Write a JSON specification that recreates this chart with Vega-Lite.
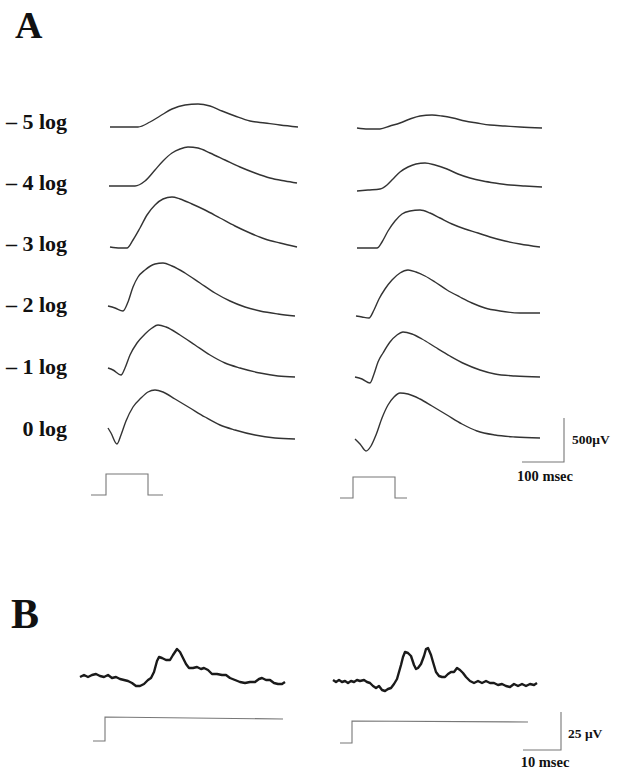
{
  "$schema": "https://vega.github.io/schema/vega-lite/v6.json",
  "width": 625,
  "height": 773,
  "autosize": {"type": "fit", "contains": "padding"},
  "padding": 0,
  "background": "white",
  "config": {"view": {"stroke": null}},
  "datasets": {
    "traces": [
      {"t":"L5","x":110,"y":127},{"t":"L5","x":125,"y":127},{"t":"L5","x":138,"y":127},{"t":"L5","x":150,"y":122},{"t":"L5","x":160,"y":116},{"t":"L5","x":172,"y":109},{"t":"L5","x":185,"y":105},{"t":"L5","x":198,"y":104},{"t":"L5","x":210,"y":106},{"t":"L5","x":222,"y":111},{"t":"L5","x":235,"y":116},{"t":"L5","x":250,"y":121},{"t":"L5","x":265,"y":123},{"t":"L5","x":280,"y":125},{"t":"L5","x":298,"y":127},
      {"t":"L4","x":109,"y":186},{"t":"L4","x":122,"y":186},{"t":"L4","x":135,"y":186},{"t":"L4","x":145,"y":181},{"t":"L4","x":155,"y":170},{"t":"L4","x":163,"y":161},{"t":"L4","x":172,"y":153},{"t":"L4","x":180,"y":149},{"t":"L4","x":188,"y":147},{"t":"L4","x":198,"y":148},{"t":"L4","x":210,"y":153},{"t":"L4","x":225,"y":160},{"t":"L4","x":240,"y":167},{"t":"L4","x":255,"y":173},{"t":"L4","x":270,"y":178},{"t":"L4","x":285,"y":181},{"t":"L4","x":297,"y":183},
      {"t":"L3","x":110,"y":247},{"t":"L3","x":120,"y":248},{"t":"L3","x":127,"y":248},{"t":"L3","x":133,"y":240},{"t":"L3","x":140,"y":228},{"t":"L3","x":147,"y":215},{"t":"L3","x":155,"y":205},{"t":"L3","x":163,"y":199},{"t":"L3","x":172,"y":197},{"t":"L3","x":180,"y":199},{"t":"L3","x":192,"y":204},{"t":"L3","x":205,"y":210},{"t":"L3","x":220,"y":218},{"t":"L3","x":235,"y":226},{"t":"L3","x":250,"y":233},{"t":"L3","x":265,"y":239},{"t":"L3","x":280,"y":243},{"t":"L3","x":297,"y":247},
      {"t":"L2","x":108,"y":306},{"t":"L2","x":115,"y":308},{"t":"L2","x":123,"y":311},{"t":"L2","x":128,"y":302},{"t":"L2","x":133,"y":287},{"t":"L2","x":138,"y":277},{"t":"L2","x":145,"y":270},{"t":"L2","x":155,"y":264},{"t":"L2","x":163,"y":263},{"t":"L2","x":172,"y":266},{"t":"L2","x":185,"y":273},{"t":"L2","x":200,"y":283},{"t":"L2","x":215,"y":293},{"t":"L2","x":230,"y":301},{"t":"L2","x":245,"y":307},{"t":"L2","x":260,"y":311},{"t":"L2","x":278,"y":314},{"t":"L2","x":295,"y":316},
      {"t":"L1","x":108,"y":368},{"t":"L1","x":113,"y":370},{"t":"L1","x":121,"y":375},{"t":"L1","x":125,"y":368},{"t":"L1","x":130,"y":355},{"t":"L1","x":137,"y":343},{"t":"L1","x":145,"y":334},{"t":"L1","x":152,"y":328},{"t":"L1","x":158,"y":325},{"t":"L1","x":166,"y":327},{"t":"L1","x":180,"y":335},{"t":"L1","x":195,"y":345},{"t":"L1","x":210,"y":355},{"t":"L1","x":225,"y":363},{"t":"L1","x":240,"y":368},{"t":"L1","x":260,"y":373},{"t":"L1","x":278,"y":376},{"t":"L1","x":295,"y":377},
      {"t":"L0","x":108,"y":428},{"t":"L0","x":111,"y":433},{"t":"L0","x":117,"y":444},{"t":"L0","x":121,"y":435},{"t":"L0","x":126,"y":421},{"t":"L0","x":133,"y":407},{"t":"L0","x":141,"y":398},{"t":"L0","x":148,"y":392},{"t":"L0","x":155,"y":390},{"t":"L0","x":163,"y":392},{"t":"L0","x":175,"y":399},{"t":"L0","x":190,"y":408},{"t":"L0","x":205,"y":417},{"t":"L0","x":220,"y":425},{"t":"L0","x":235,"y":430},{"t":"L0","x":255,"y":435},{"t":"L0","x":275,"y":438},{"t":"L0","x":295,"y":439},
      {"t":"R5","x":357,"y":128},{"t":"R5","x":368,"y":129},{"t":"R5","x":380,"y":129},{"t":"R5","x":390,"y":126},{"t":"R5","x":400,"y":123},{"t":"R5","x":410,"y":119},{"t":"R5","x":420,"y":116},{"t":"R5","x":432,"y":115},{"t":"R5","x":442,"y":116},{"t":"R5","x":453,"y":118},{"t":"R5","x":465,"y":121},{"t":"R5","x":477,"y":123},{"t":"R5","x":490,"y":125},{"t":"R5","x":505,"y":126},{"t":"R5","x":520,"y":127},{"t":"R5","x":542,"y":128},
      {"t":"R4","x":357,"y":191},{"t":"R4","x":368,"y":190},{"t":"R4","x":380,"y":189},{"t":"R4","x":387,"y":185},{"t":"R4","x":393,"y":179},{"t":"R4","x":400,"y":172},{"t":"R4","x":408,"y":167},{"t":"R4","x":416,"y":164},{"t":"R4","x":425,"y":163},{"t":"R4","x":435,"y":165},{"t":"R4","x":447,"y":169},{"t":"R4","x":458,"y":174},{"t":"R4","x":470,"y":178},{"t":"R4","x":483,"y":181},{"t":"R4","x":495,"y":183},{"t":"R4","x":510,"y":185},{"t":"R4","x":525,"y":186},{"t":"R4","x":542,"y":187},
      {"t":"R3","x":357,"y":248},{"t":"R3","x":367,"y":248},{"t":"R3","x":377,"y":248},{"t":"R3","x":382,"y":242},{"t":"R3","x":388,"y":231},{"t":"R3","x":395,"y":221},{"t":"R3","x":402,"y":214},{"t":"R3","x":410,"y":211},{"t":"R3","x":420,"y":210},{"t":"R3","x":430,"y":213},{"t":"R3","x":440,"y":218},{"t":"R3","x":452,"y":224},{"t":"R3","x":465,"y":229},{"t":"R3","x":478,"y":233},{"t":"R3","x":490,"y":237},{"t":"R3","x":505,"y":241},{"t":"R3","x":520,"y":244},{"t":"R3","x":540,"y":247},
      {"t":"R2","x":356,"y":316},{"t":"R2","x":362,"y":317},{"t":"R2","x":369,"y":318},{"t":"R2","x":374,"y":310},{"t":"R2","x":379,"y":299},{"t":"R2","x":385,"y":289},{"t":"R2","x":392,"y":280},{"t":"R2","x":400,"y":273},{"t":"R2","x":408,"y":270},{"t":"R2","x":416,"y":272},{"t":"R2","x":425,"y":276},{"t":"R2","x":435,"y":282},{"t":"R2","x":447,"y":290},{"t":"R2","x":460,"y":297},{"t":"R2","x":472,"y":303},{"t":"R2","x":485,"y":308},{"t":"R2","x":500,"y":311},{"t":"R2","x":520,"y":313},{"t":"R2","x":540,"y":313},
      {"t":"R1","x":355,"y":377},{"t":"R1","x":362,"y":379},{"t":"R1","x":370,"y":383},{"t":"R1","x":374,"y":374},{"t":"R1","x":378,"y":362},{"t":"R1","x":383,"y":353},{"t":"R1","x":390,"y":342},{"t":"R1","x":397,"y":335},{"t":"R1","x":403,"y":332},{"t":"R1","x":412,"y":334},{"t":"R1","x":422,"y":339},{"t":"R1","x":435,"y":347},{"t":"R1","x":450,"y":356},{"t":"R1","x":465,"y":364},{"t":"R1","x":480,"y":370},{"t":"R1","x":495,"y":374},{"t":"R1","x":515,"y":376},{"t":"R1","x":540,"y":377},
      {"t":"R0","x":355,"y":439},{"t":"R0","x":360,"y":444},{"t":"R0","x":366,"y":451},{"t":"R0","x":371,"y":446},{"t":"R0","x":376,"y":435},{"t":"R0","x":382,"y":418},{"t":"R0","x":388,"y":405},{"t":"R0","x":394,"y":397},{"t":"R0","x":400,"y":393},{"t":"R0","x":408,"y":394},{"t":"R0","x":420,"y":399},{"t":"R0","x":432,"y":406},{"t":"R0","x":447,"y":415},{"t":"R0","x":462,"y":424},{"t":"R0","x":477,"y":431},{"t":"R0","x":495,"y":435},{"t":"R0","x":515,"y":437},{"t":"R0","x":540,"y":438}
    ],
    "thick": [
      {"t":"BL","x":80,"y":677},{"t":"BL","x":84,"y":675},{"t":"BL","x":88,"y":677},{"t":"BL","x":92,"y":675},{"t":"BL","x":96,"y":674},{"t":"BL","x":100,"y":676},{"t":"BL","x":104,"y":677},{"t":"BL","x":108,"y":675},{"t":"BL","x":112,"y":678},{"t":"BL","x":116,"y":677},{"t":"BL","x":120,"y":679},{"t":"BL","x":124,"y":680},{"t":"BL","x":128,"y":681},{"t":"BL","x":132,"y":683},{"t":"BL","x":136,"y":686},{"t":"BL","x":140,"y":686},{"t":"BL","x":144,"y":684},{"t":"BL","x":148,"y":680},{"t":"BL","x":151,"y":678},{"t":"BL","x":154,"y":672},{"t":"BL","x":157,"y":661},{"t":"BL","x":159,"y":657},{"t":"BL","x":162,"y":658},{"t":"BL","x":166,"y":660},{"t":"BL","x":170,"y":660},{"t":"BL","x":173,"y":655},{"t":"BL","x":177,"y":649},{"t":"BL","x":180,"y":652},{"t":"BL","x":183,"y":658},{"t":"BL","x":186,"y":664},{"t":"BL","x":189,"y":668},{"t":"BL","x":193,"y":668},{"t":"BL","x":197,"y":667},{"t":"BL","x":201,"y":669},{"t":"BL","x":204,"y":668},{"t":"BL","x":208,"y":670},{"t":"BL","x":212,"y":674},{"t":"BL","x":217,"y":674},{"t":"BL","x":222,"y":675},{"t":"BL","x":226,"y":675},{"t":"BL","x":230,"y":678},{"t":"BL","x":235,"y":680},{"t":"BL","x":240,"y":682},{"t":"BL","x":245,"y":683},{"t":"BL","x":250,"y":682},{"t":"BL","x":255,"y":682},{"t":"BL","x":259,"y":679},{"t":"BL","x":262,"y":678},{"t":"BL","x":266,"y":680},{"t":"BL","x":270,"y":680},{"t":"BL","x":274,"y":683},{"t":"BL","x":278,"y":684},{"t":"BL","x":282,"y":684},{"t":"BL","x":285,"y":682},
      {"t":"BR","x":333,"y":680},{"t":"BR","x":336,"y":682},{"t":"BR","x":339,"y":680},{"t":"BR","x":342,"y":682},{"t":"BR","x":345,"y":681},{"t":"BR","x":348,"y":683},{"t":"BR","x":351,"y":681},{"t":"BR","x":354,"y":682},{"t":"BR","x":357,"y":680},{"t":"BR","x":360,"y":681},{"t":"BR","x":364,"y":680},{"t":"BR","x":367,"y":682},{"t":"BR","x":370,"y":683},{"t":"BR","x":373,"y":686},{"t":"BR","x":376,"y":688},{"t":"BR","x":379,"y":686},{"t":"BR","x":382,"y":690},{"t":"BR","x":385,"y":691},{"t":"BR","x":388,"y":689},{"t":"BR","x":391,"y":688},{"t":"BR","x":394,"y":684},{"t":"BR","x":397,"y":679},{"t":"BR","x":399,"y":672},{"t":"BR","x":401,"y":665},{"t":"BR","x":403,"y":657},{"t":"BR","x":405,"y":652},{"t":"BR","x":408,"y":653},{"t":"BR","x":411,"y":656},{"t":"BR","x":414,"y":665},{"t":"BR","x":416,"y":669},{"t":"BR","x":418,"y":668},{"t":"BR","x":421,"y":664},{"t":"BR","x":424,"y":656},{"t":"BR","x":426,"y":649},{"t":"BR","x":428,"y":648},{"t":"BR","x":431,"y":655},{"t":"BR","x":433,"y":662},{"t":"BR","x":436,"y":672},{"t":"BR","x":439,"y":676},{"t":"BR","x":442,"y":677},{"t":"BR","x":445,"y":677},{"t":"BR","x":448,"y":674},{"t":"BR","x":451,"y":672},{"t":"BR","x":454,"y":672},{"t":"BR","x":457,"y":668},{"t":"BR","x":460,"y":670},{"t":"BR","x":463,"y":673},{"t":"BR","x":466,"y":677},{"t":"BR","x":470,"y":681},{"t":"BR","x":474,"y":683},{"t":"BR","x":478,"y":681},{"t":"BR","x":482,"y":683},{"t":"BR","x":486,"y":681},{"t":"BR","x":490,"y":683},{"t":"BR","x":494,"y":683},{"t":"BR","x":498,"y":685},{"t":"BR","x":502,"y":684},{"t":"BR","x":506,"y":686},{"t":"BR","x":510,"y":687},{"t":"BR","x":514,"y":684},{"t":"BR","x":518,"y":686},{"t":"BR","x":522,"y":684},{"t":"BR","x":526,"y":686},{"t":"BR","x":530,"y":684},{"t":"BR","x":534,"y":685},{"t":"BR","x":537,"y":683}
    ],
    "steps": [
      {"t":"SL","i":1,"x":91,"y":495},{"t":"SL","i":2,"x":106,"y":495},{"t":"SL","i":3,"x":106,"y":474},{"t":"SL","i":4,"x":148,"y":474},{"t":"SL","i":5,"x":148,"y":495},{"t":"SL","i":6,"x":163,"y":495},
      {"t":"SR","i":1,"x":340,"y":498},{"t":"SR","i":2,"x":353,"y":498},{"t":"SR","i":3,"x":353,"y":477},{"t":"SR","i":4,"x":395,"y":477},{"t":"SR","i":5,"x":395,"y":498},{"t":"SR","i":6,"x":407,"y":498},
      {"t":"SA","i":1,"x":522,"y":462},{"t":"SA","i":2,"x":564,"y":462},{"t":"SA","i":3,"x":564,"y":418},
      {"t":"PL","i":1,"x":93,"y":741},{"t":"PL","i":2,"x":105,"y":741},{"t":"PL","i":3,"x":105,"y":717},{"t":"PL","i":4,"x":283,"y":719},
      {"t":"PR","i":1,"x":340,"y":743},{"t":"PR","i":2,"x":352,"y":743},{"t":"PR","i":3,"x":352,"y":721},{"t":"PR","i":4,"x":528,"y":722},
      {"t":"SB","i":1,"x":523,"y":750},{"t":"SB","i":2,"x":561,"y":750},{"t":"SB","i":3,"x":561,"y":712}
    ],
    "rowLabels": [
      {"x":67,"y":122,"label":"– 5 log"},
      {"x":67,"y":183,"label":"– 4 log"},
      {"x":67,"y":244,"label":"– 3 log"},
      {"x":67,"y":305,"label":"– 2 log"},
      {"x":67,"y":367,"label":"– 1 log"},
      {"x":67,"y":429,"label":"0 log"}
    ],
    "panelA": [{"x":15,"y":27,"label":"A"}],
    "panelB": [{"x":11,"y":615,"label":"B"}],
    "scaleLeft": [
      {"x":572,"y":440,"label":"500μV"},
      {"x":568,"y":734,"label":"25 μV"}
    ],
    "scaleCenter": [
      {"x":545,"y":477,"label":"100 msec"},
      {"x":545,"y":763,"label":"10 msec"}
    ]
  },
  "encoding": {
    "x": {"field": "x", "type": "quantitative", "scale": {"domain": [0, 625], "nice": false, "zero": false}, "axis": null},
    "y": {"field": "y", "type": "quantitative", "scale": {"domain": [0, 773], "nice": false, "zero": false, "reverse": true}, "axis": null}
  },
  "layer": [
    {
      "data": {"name": "traces"},
      "mark": {"type": "line", "interpolate": "monotone", "color": "#333333", "strokeWidth": 1.4},
      "encoding": {"detail": {"field": "t", "type": "nominal"}}
    },
    {
      "data": {"name": "thick"},
      "mark": {"type": "line", "color": "#1a1a1a", "strokeWidth": 2.4, "strokeJoin": "round"},
      "encoding": {"detail": {"field": "t", "type": "nominal"}}
    },
    {
      "data": {"name": "steps"},
      "mark": {"type": "line", "color": "#777777", "strokeWidth": 1.1},
      "encoding": {"detail": {"field": "t", "type": "nominal"}, "order": {"field": "i", "type": "quantitative"}}
    },
    {
      "data": {"name": "rowLabels"},
      "mark": {"type": "text", "align": "right", "baseline": "middle", "font": "Liberation Serif", "fontWeight": "bold", "fontSize": 22, "color": "#111111"},
      "encoding": {"text": {"field": "label"}}
    },
    {
      "data": {"name": "panelA"},
      "mark": {"type": "text", "align": "left", "baseline": "middle", "font": "Liberation Serif", "fontWeight": "bold", "fontSize": 38, "color": "#111111"},
      "encoding": {"text": {"field": "label"}}
    },
    {
      "data": {"name": "panelB"},
      "mark": {"type": "text", "align": "left", "baseline": "middle", "font": "Liberation Serif", "fontWeight": "bold", "fontSize": 42, "color": "#111111"},
      "encoding": {"text": {"field": "label"}}
    },
    {
      "data": {"name": "scaleLeft"},
      "mark": {"type": "text", "align": "left", "baseline": "middle", "font": "Liberation Serif", "fontWeight": "bold", "fontSize": 13.5, "color": "#111111"},
      "encoding": {"text": {"field": "label"}}
    },
    {
      "data": {"name": "scaleCenter"},
      "mark": {"type": "text", "align": "center", "baseline": "middle", "font": "Liberation Serif", "fontWeight": "bold", "fontSize": 14.5, "color": "#111111"},
      "encoding": {"text": {"field": "label"}}
    }
  ]
}
